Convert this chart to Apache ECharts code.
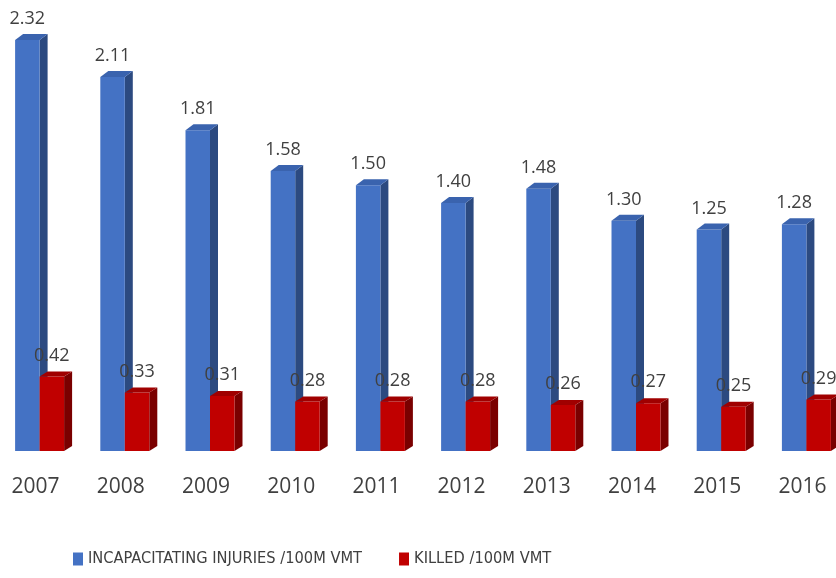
<!DOCTYPE html>
<html>
<head>
<meta charset="utf-8">
<script src="https://cdn.jsdelivr.net/npm/echarts@6/dist/echarts.min.js"></script>
<style>html,body{margin:0;padding:0;background:#fff}#c{width:836px;height:578px}</style>
</head>
<body>
<div id="c"></div>
<script>
const years = ['2007','2008','2009','2010','2011','2012','2013','2014','2015','2016'];
const injuries = [2.32, 2.11, 1.81, 1.58, 1.50, 1.40, 1.48, 1.30, 1.25, 1.28];
const killed = [0.42, 0.33, 0.31, 0.28, 0.28, 0.28, 0.26, 0.27, 0.25, 0.29];
const seriesNames = ['INCAPACITATING INJURIES /100M VMT', 'KILLED /100M VMT'];

const FONT = '"Open Sans", sans-serif';
const palettes = [
  {front: '#4472C4', side: '#2C4A80', top: '#3A63AE'},
  {front: '#C00000', side: '#7A0000', top: '#A00000'}
];

function render3d(params, api) {
  const si = params.seriesIndex;
  const idx = api.value(0), val = api.value(1);
  const base = api.coord([idx, 0]);
  const top = api.coord([idx, val]);
  const band = api.size([1, 0])[0];
  const bw = band * 0.2875;
  const x0 = si === 0 ? base[0] - bw : base[0];
  const x1 = x0 + bw;
  const dx = 8, dy = si === 0 ? 6 : 5;
  const p = palettes[si];
  return {
    type: 'group',
    children: [
      {type: 'polygon', shape: {points: [[x1, top[1]], [x1 + dx, top[1] - dy], [x1 + dx, base[1] - dy], [x1, base[1]]]}, style: {fill: p.side}},
      {type: 'rect', shape: {x: x0, y: top[1], width: bw, height: base[1] - top[1]}, style: {fill: p.front}},
      {type: 'polygon', shape: {points: [[x0, top[1]], [x0 + dx, top[1] - dy], [x1 + dx, top[1] - dy], [x1, top[1]]]}, style: {fill: p.top}},
      {type: 'text', x: x0 + bw / 2, y: top[1] - 21, style: {text: val.toFixed(2), fill: '#404040', font: '18px ' + FONT, align: 'center', verticalAlign: 'middle'}}
    ]
  };
}

const chart = echarts.init(document.getElementById('c'));
chart.setOption({
  animation: false,
  backgroundColor: '#ffffff',
  grid: {left: -3, width: 852, top: 8, bottom: 127, outerBoundsMode: 'none'},
  xAxis: {
    type: 'category', data: years,
    axisLine: {show: false}, axisTick: {show: false},
    axisLabel: {color: '#404040', fontSize: 21, fontFamily: FONT, margin: 26, padding: [0, 8, 0, 0]}
  },
  yAxis: {type: 'value', min: 0, max: 2.5, show: false, splitLine: {show: false}},
  legend: {
    left: 73, top: 551, padding: 0, icon: 'rect', itemWidth: 10, itemHeight: 13, itemGap: 37,
    textStyle: {color: '#404040', fontSize: 16.3, fontFamily: '"Liberation Sans Narrow", "DejaVu Sans Condensed", sans-serif'},
    data: seriesNames
  },
  series: [
    {name: seriesNames[0], type: 'custom', renderItem: render3d, itemStyle: {color: palettes[0].front},
     encode: {x: 0, y: 1}, data: injuries.map((v, i) => [i, v]), z: 2},
    {name: seriesNames[1], type: 'custom', renderItem: render3d, itemStyle: {color: palettes[1].front},
     encode: {x: 0, y: 1}, data: killed.map((v, i) => [i, v]), z: 3}
  ]
});
</script>
</body>
</html>
